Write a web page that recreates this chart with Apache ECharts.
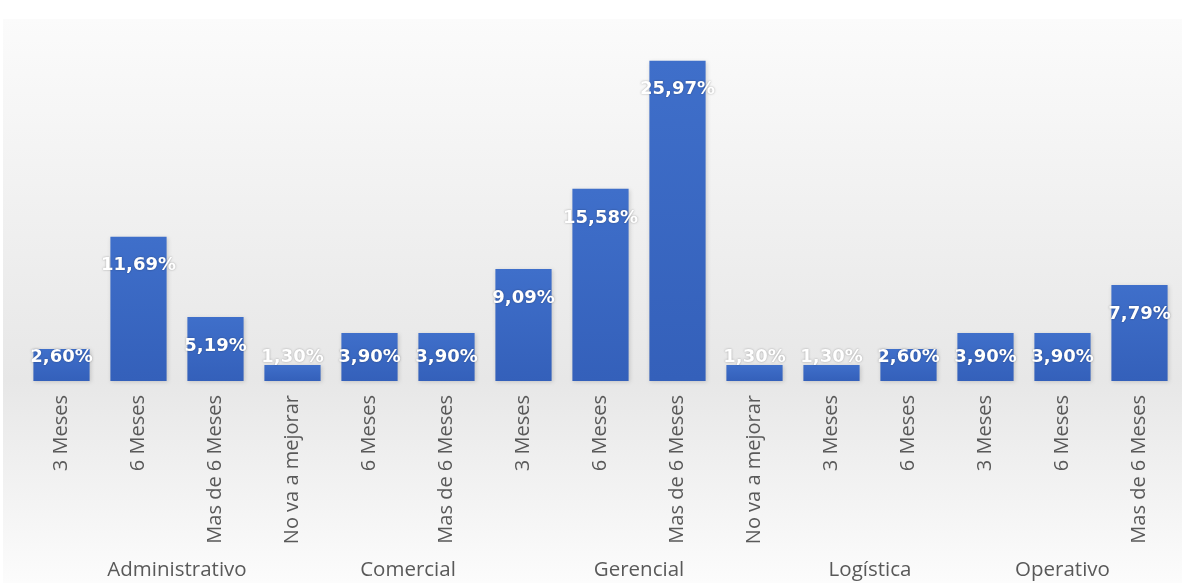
<!DOCTYPE html>
<html>
<head>
<meta charset="utf-8">
<script src="https://cdn.jsdelivr.net/npm/echarts@6/dist/echarts.min.js"></script>
<style>
    html, body { margin: 0; padding: 0; background: #fff; }
    #barChart { width: 1182px; height: 583px; }
</style>
</head>
<body>
<div id="barChart"></div>
<script>
    // categories inside each area
    const categories = [
        '3 Meses', '6 Meses', 'Mas de 6 Meses', 'No va a mejorar',
        '6 Meses', 'Mas de 6 Meses',
        '3 Meses', '6 Meses', 'Mas de 6 Meses', 'No va a mejorar',
        '3 Meses', '6 Meses',
        '3 Meses', '6 Meses', 'Mas de 6 Meses'
    ];
    const groups = ['Administrativo', 'Comercial', 'Gerencial', 'Logística', 'Operativo'];
    const groupSizes = [4, 2, 4, 2, 3];
    const values = [2.60, 11.69, 5.19, 1.30, 3.90, 3.90, 9.09, 15.58, 25.97, 1.30, 1.30, 2.60, 3.90, 3.90, 7.79];

    // center of every group on a 0..n scale
    const groupCenters = [];
    let start = 0;
    groupSizes.forEach(n => {
        groupCenters.push(start + n / 2);
        start += n;
    });

    const labelFont = { fontFamily: 'DejaVu Sans', fontWeight: 'bold', fontSize: 18, color: '#fff',
        textShadowColor: 'rgba(0,0,0,0.35)', textShadowBlur: 2 };

    const seriesData = values.map(v => ({
        value: v,
        label: v < 4.5
            ? { position: 'insideBottom', distance: 15 }
            : { position: 'insideTop', distance: 20 }
    }));

    const option = {
        animation: false,
        graphic: [{
            type: 'rect',
            z: -10,
            silent: true,
            shape: { x: 3, y: 19, width: 1179, height: 564 },
            style: {
                fill: new echarts.graphic.LinearGradient(0, 0, 0, 1, [
                    { offset: 0, color: '#fbfbfb' },
                    { offset: 0.64, color: '#e7e7e7' },
                    { offset: 1, color: '#fcfcfc' }
                ])
            }
        }],
        grid: {
            left: 23,
            right: 4,
            top: 11,
            bottom: 202
        },
        xAxis: [{
            type: 'category',
            data: categories,
            axisLine: { show: false },
            axisTick: { show: false },
            axisLabel: {
                rotate: 90,
                interval: 0,
                margin: 14,
                fontFamily: 'Open Sans',
                fontSize: 20,
                color: '#595959'
            }
        }, {
            type: 'value',
            position: 'bottom',
            min: 0,
            max: categories.length,
            offset: 171,
            axisLine: { show: false },
            axisTick: { show: false },
            splitLine: { show: false },
            axisLabel: {
                customValues: groupCenters,
                formatter: v => groups[groupCenters.indexOf(v)] || '',
                fontFamily: 'Open Sans',
                fontSize: 20.5,
                color: '#595959'
            }
        }],
        yAxis: {
            type: 'value',
            min: 0,
            max: 30,
            show: false,
            splitLine: { show: false }
        },
        series: [{
            type: 'bar',
            xAxisIndex: 0,
            barCategoryGap: '27%',
            data: seriesData,
            itemStyle: {
                color: new echarts.graphic.LinearGradient(0, 0, 0, 1, [
                    { offset: 0, color: '#3f6fca' },
                    { offset: 1, color: '#3460ba' }
                ]),
                shadowColor: 'rgba(0,0,0,0.15)',
                shadowBlur: 4,
                shadowOffsetX: 1,
                shadowOffsetY: 1
            },
            label: Object.assign({
                show: true,
                formatter: p => p.value.toFixed(2).replace('.', ',') + '%'
            }, labelFont)
        }]
    };

    const myChart = echarts.init(document.getElementById('barChart'));
    myChart.setOption(option);
</script>
</body>
</html>
